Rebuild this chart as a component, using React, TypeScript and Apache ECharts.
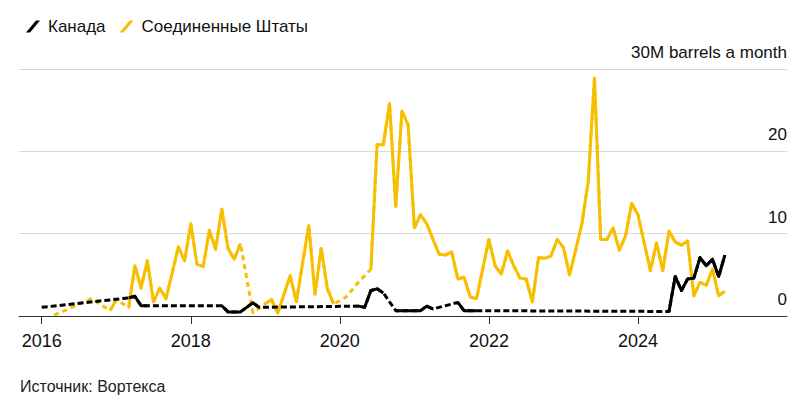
import React, { useEffect, useRef } from "react";
import * as echarts from "echarts";

// Monthly values, index 0 = Jan 2016 (million barrels a month); null = no data (gap drawn dashed)
const canada: (number | null)[] = [
  1.05, null, null, null, null, null, null, null, null, null, null, null,
  null, null, 2.2, 2.4, 1.25, 1.25, null, null, null, null, null, null,
  null, null, null, null, null, 1.25, 0.5, 0.5, 0.5, 1.05, 1.6, 1.05,
  null, null, null, null, null, null, null, null, null, null, null, null,
  null, null, null, 1.2, 1.05, 3.1, 3.3, 2.8, null, 0.65, 0.65, 0.65,
  0.65, 0.65, 1.2, 0.85, null, null, null, 1.65, 0.65, 0.65, 0.65, null,
  null, null, null, null, null, null, null, null, null, null, null, null,
  null, null, null, null, null, null, null, null, null, null, null, null,
  null, null, null, null, null, 0.55, 4.8, 3.1, 4.5, 4.6, 7.1, 6.1,
  6.9, 4.8, 7.4,
];

const us: (number | null)[] = [
  null, null, 0.1, null, null, null, null, null, 2.1, null, null, 0.65,
  2.0, null, 1.05, 6.1, 3.4, 6.7, 1.7, 3.4, 2.1, 5.2, 8.4, 6.7,
  11.2, 6.3, 6.0, 10.4, 8.1, 13.0, 8.2, 6.9, 8.8, null, 0.4, null,
  1.5, 2.0, 0.36, 2.6, 4.9, 1.73, 6.4, 11.0, 2.66, 8.2, 3.3, 1.45,
  null, 2.3, null, 4.1, null, 5.7, 20.8, 20.8, 25.8, 13.3, 24.9, 23.2,
  10.7, 12.3, 11.2, 9.3, 7.5, 7.4, 7.8, 4.5, 4.7, 2.3, 2.1, 5.7,
  9.3, 6.1, 5.1, 7.9, 6.1, 4.6, 4.5, 1.7, 7.1, 7.0, 7.3, 9.3,
  8.3, 5.0, 8.1, 11.3, 16.4, 28.9, 9.3, 9.3, 10.7, 8.0, 9.7, 13.7,
  12.3, 8.9, 5.5, 8.9, 5.5, 10.3, 9.0, 8.6, 9.1, 2.45, 4.1, 3.7,
  5.7, 2.45, 3.0,
];

const seriesNames = ["Канада", "Соединенные Штаты"];
const yearLabels = ["2016", "2018", "2020", "2022", "2024"];
const yearTickMonths = [0, 24, 48, 72, 96];
const yTickValues = [0, 10, 20, 30];
const yTickLabels = ["0", "10", "20", "30M barrels a month"];
const sourceText = "Источник: Вортекса";

const BLACK = "#000000";
const YELLOW = "#F8BF00";
const FONT = "'Liberation Sans', Arial, Helvetica, sans-serif";
const SLASH = "path://M0,12 L4,12 L14,0 L10,0 Z";

const toPairs = (arr: (number | null)[]) =>
  arr.map((v, i) => [i, v === null ? "-" : v]);

export default function App() {
  const ref = useRef<HTMLDivElement>(null);

  useEffect(() => {
    document.body.style.margin = "0";
    if (!ref.current) return;
    const chart = echarts.init(ref.current, null, { renderer: "svg" });

    const lineSeries = (
      name: string,
      data: (number | null)[],
      color: string,
      dashed: boolean,
      z: number
    ) => ({
      type: "line",
      name,
      data: toPairs(data),
      connectNulls: dashed,
      showSymbol: false,
      symbol: "none",
      silent: true,
      z,
      itemStyle: { color },
      lineStyle: {
        color,
        width: 3,
        type: dashed ? (color === BLACK ? [6, 3] : [5, 4]) : "solid",
        join: "round",
      },
    });

    chart.setOption({
      animation: false,
      textStyle: { fontFamily: FONT },
      grid: { left: 19, right: 17, top: 69, bottom: 83, containLabel: false },
      legend: {
        left: 21,
        top: 13,
        itemWidth: 14,
        itemHeight: 12,
        itemGap: 14,
        selectedMode: false,
        itemStyle: { borderWidth: 0 },
        textStyle: {
          fontSize: 17,
          color: "#111",
          fontFamily: FONT,
          padding: [0, 0, 0, 3],
        },
        data: [
          { name: seriesNames[0], icon: SLASH },
          { name: seriesNames[1], icon: SLASH },
        ],
      },
      xAxis: {
        type: "value",
        min: -3.66,
        max: 120,
        splitLine: { show: false },
        axisLine: { show: true, lineStyle: { color: "#333", width: 1 } },
        axisTick: {
          show: true,
          length: 8,
          customValues: yearTickMonths,
          lineStyle: { color: "#333", width: 1 },
        },
        axisLabel: {
          customValues: yearTickMonths,
          formatter: (v: number) => yearLabels[yearTickMonths.indexOf(v)] ?? "",
          fontSize: 18,
          margin: 16,
          color: "#111",
          fontFamily: FONT,
        },
      },
      yAxis: {
        type: "value",
        position: "right",
        min: 0,
        max: 30,
        interval: 10,
        axisLine: { show: false },
        axisTick: { show: false },
        splitLine: { show: true, lineStyle: { color: "#d9d9d9", width: 1 } },
        axisLabel: {
          inside: true,
          margin: 0,
          fontSize: 17,
          color: "#111",
          fontFamily: FONT,
          verticalAlign: "bottom",
          padding: [0, 0, 8, 0],
          formatter: (v: number) => yTickLabels[yTickValues.indexOf(v)] ?? "",
        },
      },
      graphic: [
        {
          type: "text",
          left: 20,
          top: 378,
          style: {
            text: sourceText,
            font: `16px ${FONT}`,
            fill: "#222",
          },
        },
      ],
      series: [
        lineSeries(seriesNames[1], us, YELLOW, true, 1),
        lineSeries(seriesNames[1], us, YELLOW, false, 2),
        lineSeries(seriesNames[0], canada, BLACK, true, 3),
        lineSeries(seriesNames[0], canada, BLACK, false, 4),
      ],
    });

    return () => chart.dispose();
  }, []);

  return <div ref={ref} style={{ width: 804, height: 399 }} />;
}
